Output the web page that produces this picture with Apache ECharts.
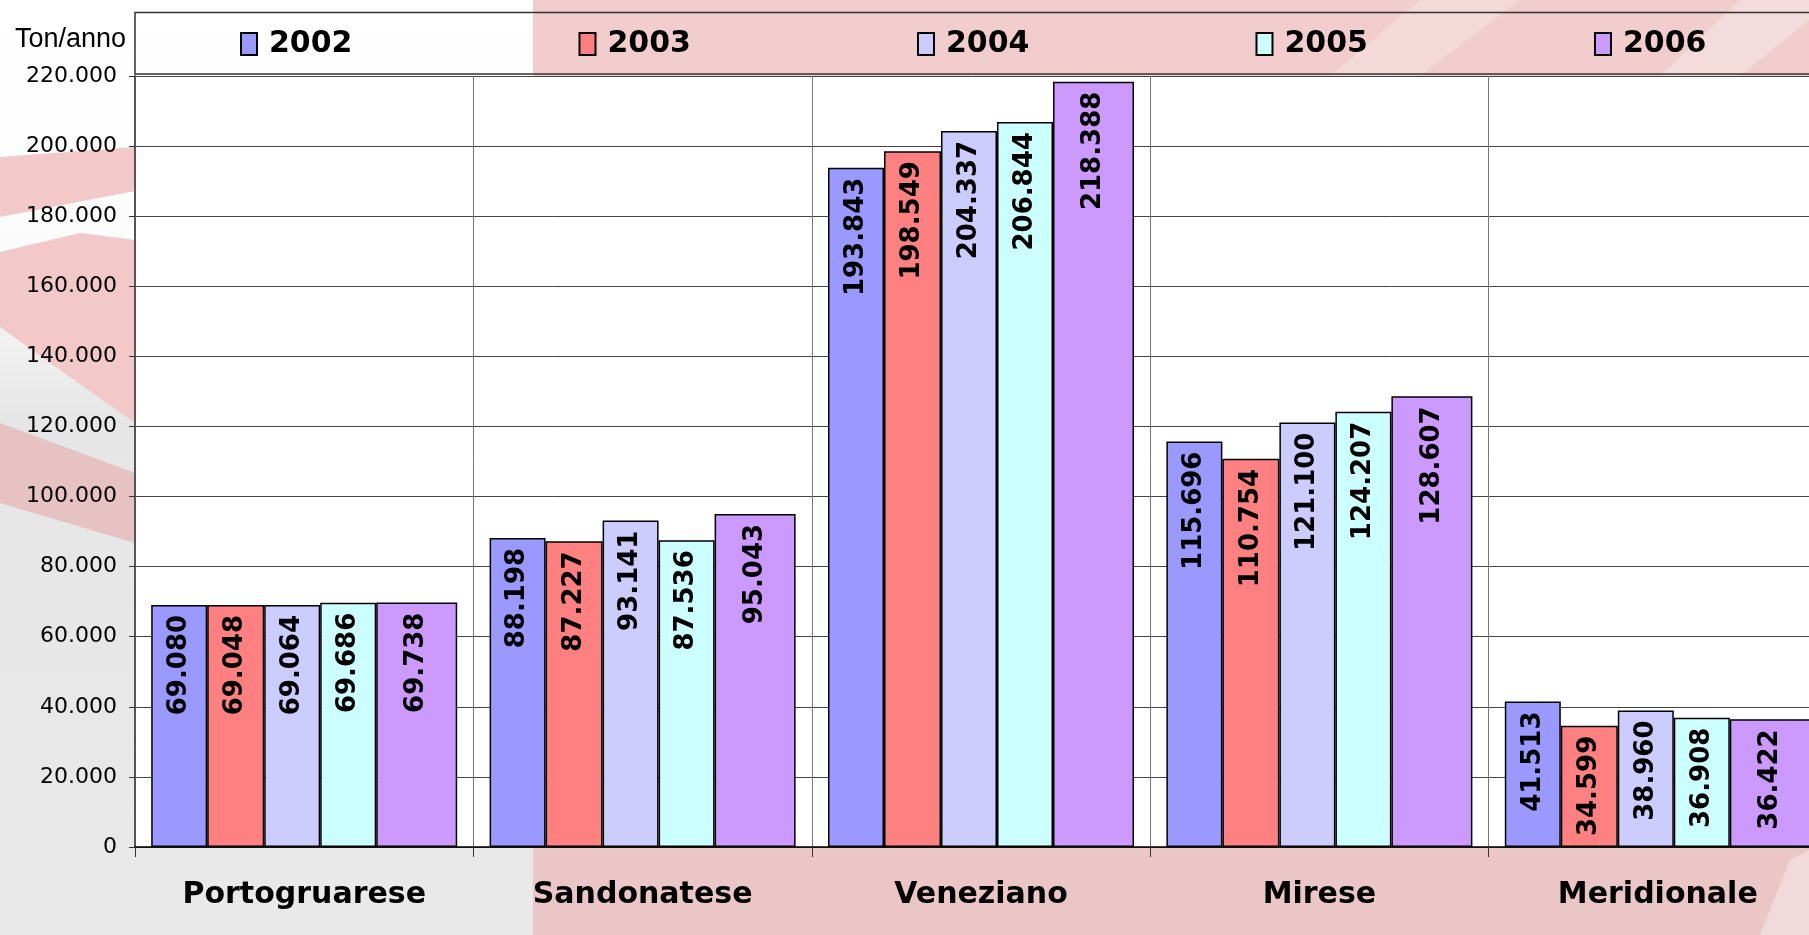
<!DOCTYPE html>
<html>
<head>
<meta charset="utf-8">
<script src="https://cdn.jsdelivr.net/npm/echarts@6/dist/echarts.min.js"></script>
<style>
  html, body { margin: 0; padding: 0; background: #fff; }
  #main { width: 1809px; height: 935px; }
</style>
</head>
<body>
<div id="main"></div>
<script>
// dati: tonnellate/anno per area
const categories = ["Portogruarese", "Sandonatese", "Veneziano", "Mirese", "Meridionale"];
const years = ["2002", "2003", "2004", "2005", "2006"];
const v2002 = [69080, 88198, 193843, 115696, 41513];
const v2003 = [69048, 87227, 198549, 110754, 34599];
const v2004 = [69064, 93141, 204337, 121100, 38960];
const v2005 = [69686, 87536, 206844, 124207, 36908];
const v2006 = [69738, 95043, 218388, 128607, 36422];
const yMax = 220000;
const yStep = 20000;

const values = [v2002, v2003, v2004, v2005, v2006];
const colors = ["#9999ff", "#ff8080", "#ccccff", "#ccffff", "#cc99ff"];
const barWidths = [56, 57, 56, 56, 81];

// separatore migliaia con punto
function fmt(v) {
  return String(v).replace(/\B(?=(\d{3})+(?!\d))/g, ".");
}

const chart = echarts.init(document.getElementById("main"));

let series = [];
for (let i = 0; i < years.length; i++) {
  series.push({
    name: years[i],
    type: "bar",
    data: values[i],
    barWidth: barWidths[i],
    barGap: "0%",
    itemStyle: {
      color: colors[i],
      borderColor: "#000",
      borderWidth: 1.5
    },
    label: {
      show: true,
      position: "insideTop",
      rotate: 90,
      align: "right",
      verticalAlign: "middle",
      distance: 10,
      fontFamily: "DejaVu Sans",
      fontWeight: "bold",
      fontSize: 26,
      color: "#000",
      formatter: p => fmt(p.value)
    }
  });
}

// sfondo (fasce rosa e grigio)
const bg = [
  {
    type: "rect", z: -10, silent: true,
    shape: { x: 0, y: 0, width: 533, height: 935 },
    style: {
      fill: new echarts.graphic.LinearGradient(0, 0, 0, 1, [
        { offset: 0, color: "#ffffff" },
        { offset: 0.28, color: "#fbfbfb" },
        { offset: 0.45, color: "#e6e6e6" },
        { offset: 1, color: "#e9e9e9" }
      ])
    }
  },
  {
    type: "rect", z: -10, silent: true,
    shape: { x: 533, y: 0, width: 1276, height: 935 },
    style: {
      fill: new echarts.graphic.LinearGradient(0, 0, 0, 1, [
        { offset: 0, color: "#f1cdcd" },
        { offset: 1, color: "#ebc6c6" }
      ])
    }
  },
  {
    type: "polygon", z: -9, silent: true,
    shape: { points: [[0, 157], [135, 147], [135, 191], [0, 217]] },
    style: { fill: "#f2c8c8" }
  },
  {
    type: "polygon", z: -9, silent: true,
    shape: { points: [[0, 252], [80, 233], [135, 240], [135, 423], [60, 370], [0, 327]] },
    style: { fill: "#f2c8c8" }
  },
  {
    type: "polygon", z: -9, silent: true,
    shape: { points: [[0, 423], [135, 473], [135, 543], [0, 503]] },
    style: { fill: "#e6c2c2" }
  },
  {
    type: "polygon", z: -9, silent: true,
    shape: { points: [[1330, 76], [1420, 0], [1520, 0], [1420, 76]] },
    style: { fill: "rgba(255,255,255,0.25)" }
  },
  {
    type: "polygon", z: -9, silent: true,
    shape: { points: [[1660, 76], [1740, 0], [1809, 0], [1809, 20], [1740, 76]] },
    style: { fill: "rgba(255,255,255,0.3)" }
  },
  {
    type: "polygon", z: -9, silent: true,
    shape: { points: [[1760, 935], [1790, 860], [1809, 850], [1809, 935]] },
    style: { fill: "rgba(255,255,255,0.35)" }
  },
  // riquadro legenda
  {
    type: "rect", z: 10, silent: true,
    shape: { x: 135, y: 12.5, width: 1700, height: 61.5 },
    style: { fill: "none", stroke: "#333", lineWidth: 1.5 }
  },
  {
    type: "text", z: 10, silent: true,
    x: 15, y: 40,
    style: {
      text: "Ton/anno",
      fontFamily: "Liberation Sans",
      fontSize: 27,
      fill: "#000",
      verticalAlign: "middle"
    }
  }
];

chart.setOption({
  animation: false,
  color: colors,
  graphic: bg,
  grid: {
    left: 135,
    right: -18,
    top: 76,
    bottom: 88,
    show: true,
    backgroundColor: "#fff",
    borderWidth: 0,
    containLabel: false,
    outerBoundsMode: "none"
  },
  legend: {
    data: years,
    left: 235,
    top: 24,
    icon: "rect",
    itemWidth: 16,
    itemHeight: 22,
    itemGap: 226,
    textStyle: {
      fontFamily: "DejaVu Sans",
      fontWeight: "bold",
      fontSize: 30,
      color: "#000",
      padding: [0, 0, 0, 7]
    }
  },
  xAxis: {
    type: "category",
    data: categories,
    axisLine: { show: true, lineStyle: { color: "#000", width: 1.5 } },
    axisTick: { show: true, length: 10, lineStyle: { color: "#333" } },
    splitLine: { show: true, lineStyle: { color: "#777", width: 1 } },
    axisLabel: {
      margin: 33,
      fontFamily: "DejaVu Sans",
      fontWeight: "bold",
      fontSize: 30,
      color: "#000"
    }
  },
  yAxis: {
    type: "value",
    min: 0,
    max: yMax,
    interval: yStep,
    axisLine: { show: true, lineStyle: { color: "#555", width: 2 } },
    axisTick: { show: true, length: 6, lineStyle: { color: "#333" } },
    splitLine: { show: true, lineStyle: { color: "#444", width: 1 } },
    axisLabel: {
      margin: 18,
      fontFamily: "DejaVu Sans",
      fontSize: 22,
      color: "#000",
      formatter: v => fmt(v)
    }
  },
  series: series
});
</script>
</body>
</html>
